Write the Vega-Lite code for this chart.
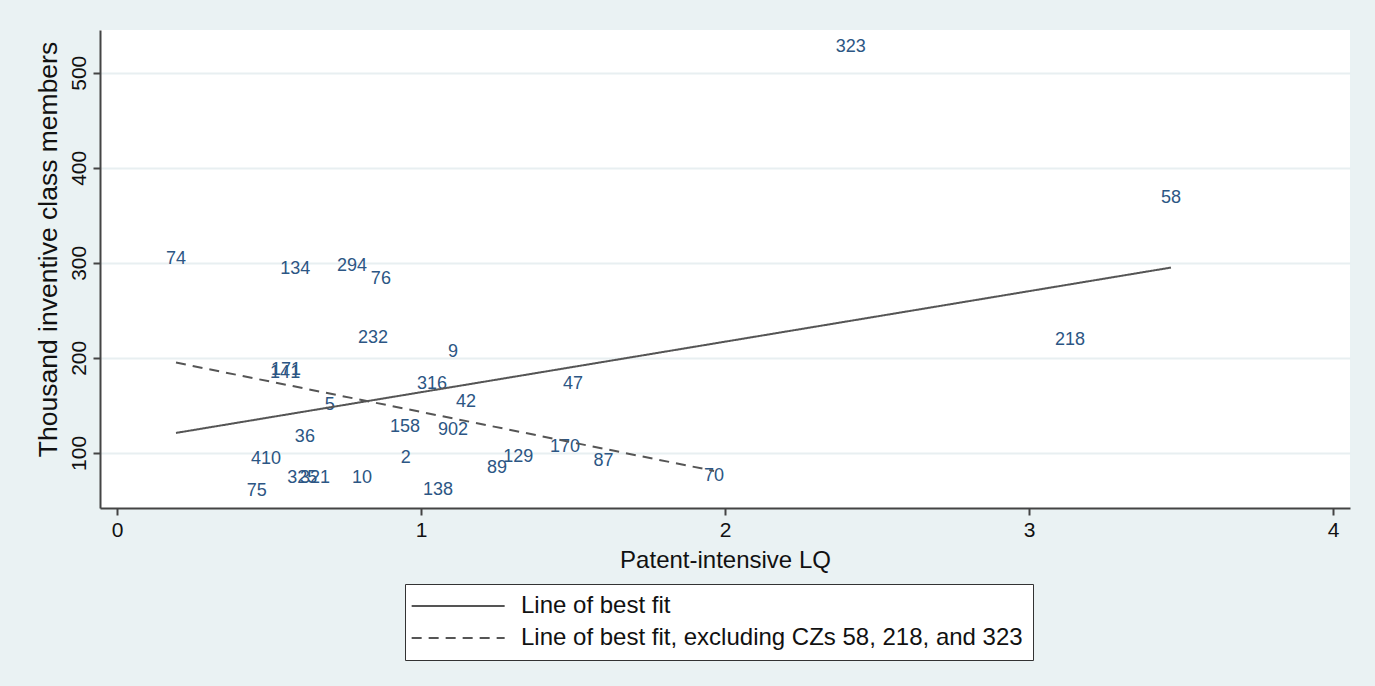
{
  "$schema": "https://vega.github.io/schema/vega-lite/v6.json",
  "width": 1250,
  "height": 478,
  "autosize": {"type": "none"},
  "padding": {"left": 100, "top": 30, "right": 25, "bottom": 178},
  "background": "#EAF2F3",
  "config": {
    "font": "Liberation Sans",
    "view": {"fill": "white", "stroke": null}
  },
  "layer": [
    {
      "data": {
        "values": [
          {"cz": "74", "lq": 0.194, "inv": 304},
          {"cz": "134", "lq": 0.586, "inv": 293},
          {"cz": "294", "lq": 0.773, "inv": 297},
          {"cz": "76", "lq": 0.868, "inv": 283},
          {"cz": "232", "lq": 0.842, "inv": 221},
          {"cz": "9", "lq": 1.105, "inv": 206},
          {"cz": "171", "lq": 0.556, "inv": 187},
          {"cz": "141", "lq": 0.553, "inv": 184},
          {"cz": "316", "lq": 1.036, "inv": 173},
          {"cz": "5", "lq": 0.70, "inv": 150},
          {"cz": "42", "lq": 1.148, "inv": 154},
          {"cz": "47", "lq": 1.50, "inv": 172},
          {"cz": "158", "lq": 0.947, "inv": 127},
          {"cz": "902", "lq": 1.105, "inv": 124},
          {"cz": "36", "lq": 0.618, "inv": 117},
          {"cz": "170", "lq": 1.474, "inv": 106},
          {"cz": "410", "lq": 0.49, "inv": 94},
          {"cz": "2", "lq": 0.95, "inv": 95},
          {"cz": "129", "lq": 1.32, "inv": 96},
          {"cz": "89", "lq": 1.25, "inv": 84},
          {"cz": "87", "lq": 1.60, "inv": 91},
          {"cz": "70", "lq": 1.964, "inv": 76},
          {"cz": "325", "lq": 0.609, "inv": 74},
          {"cz": "321", "lq": 0.651, "inv": 74},
          {"cz": "10", "lq": 0.806, "inv": 74},
          {"cz": "75", "lq": 0.46, "inv": 60},
          {"cz": "138", "lq": 1.056, "inv": 61},
          {"cz": "323", "lq": 2.414, "inv": 527},
          {"cz": "58", "lq": 3.467, "inv": 368},
          {"cz": "218", "lq": 3.135, "inv": 219}
        ]
      },
      "mark": {"type": "text", "fontSize": 18, "color": "#2c5684", "align": "center", "baseline": "middle"},
      "encoding": {
        "x": {
          "field": "lq", "type": "quantitative",
          "scale": {"domain": [-0.056, 4.056], "nice": false, "zero": false},
          "axis": {
            "title": "Patent-intensive LQ",
            "values": [0, 1, 2, 3, 4],
            "format": "d",
            "grid": false,
            "domainColor": "#444", "domainWidth": 2,
            "tickColor": "#444", "tickWidth": 2, "tickSize": 7,
            "labelFontSize": 21, "labelColor": "#111", "labelPadding": 4,
            "titleFontSize": 24, "titleFontWeight": "normal", "titleColor": "#111", "titlePadding": 8
          }
        },
        "y": {
          "field": "inv", "type": "quantitative",
          "scale": {"domain": [42, 545], "nice": false, "zero": false},
          "axis": {
            "title": "Thousand inventive class members",
            "values": [100, 200, 300, 400, 500],
            "grid": true, "gridColor": "#E8EFF1", "gridWidth": 2,
            "domainColor": "#444", "domainWidth": 2,
            "tickColor": "#444", "tickWidth": 2, "tickSize": 7,
            "labelFontSize": 21, "labelColor": "#111", "labelPadding": 4,
            "labelAngle": -90, "labelAlign": "center", "labelBaseline": "bottom",
            "titleFontSize": 26.5, "titleFontWeight": "normal", "titleColor": "#111", "titlePadding": 6,
            "titleY": 219
          }
        },
        "text": {"field": "cz", "type": "nominal"}
      }
    },
    {
      "data": {
        "values": [
          {"series": "Line of best fit", "lq": 0.194, "inv": 121},
          {"series": "Line of best fit", "lq": 3.467, "inv": 295},
          {"series": "Line of best fit, excluding CZs 58, 218, and 323", "lq": 0.194, "inv": 195},
          {"series": "Line of best fit, excluding CZs 58, 218, and 323", "lq": 1.964, "inv": 81}
        ]
      },
      "mark": {"type": "line", "color": "#555", "strokeWidth": 2},
      "encoding": {
        "x": {"field": "lq", "type": "quantitative"},
        "y": {"field": "inv", "type": "quantitative"},
        "strokeDash": {
          "field": "series", "type": "nominal",
          "scale": {
            "domain": ["Line of best fit", "Line of best fit, excluding CZs 58, 218, and 323"],
            "range": [[1, 0], [10, 7]]
          },
          "legend": {
            "title": null,
            "orient": "none",
            "legendX": 305,
            "legendY": 554,
            "direction": "vertical",
            "symbolType": "M-1.65,0H8.35",
            "symbolSize": 346,
            "symbolStrokeWidth": 2,
            "symbolStrokeColor": "#555",
            "labelFontSize": 24,
            "labelColor": "#111",
            "labelOffset": 82,
            "labelLimit": 800,
            "rowPadding": 8,
            "padding": 10,
            "strokeColor": "#333",
            "fillColor": "white",
            "cornerRadius": 0
          }
        }
      }
    }
  ]
}
